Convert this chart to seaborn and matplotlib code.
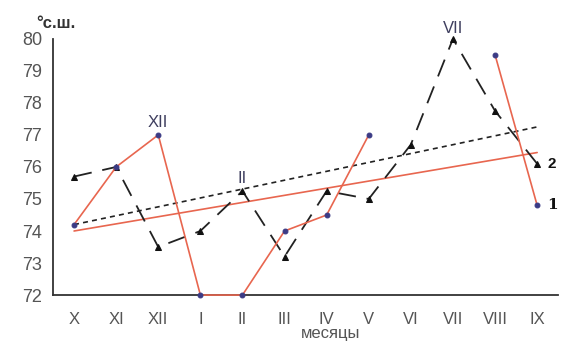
import numpy as np
import pandas as pd
import seaborn as sns
import matplotlib.pyplot as plt

# месяцы (с октября по сентябрь)
months = ['X', 'XI', 'XII', 'I', 'II', 'III', 'IV', 'V', 'VI', 'VII', 'VIII', 'IX']

# кривая 1 (красная) - пропуск в VI и VII
curve1_a_months = ['X', 'XI', 'XII', 'I', 'II', 'III', 'IV', 'V']
curve1_a = [74.2, 76.0, 77.0, 72.0, 72.0, 74.0, 74.5, 77.0]
curve1_b_months = ['VIII', 'IX']
curve1_b = [79.5, 74.8]

# кривая 2 (чёрная, пунктир с треугольниками)
curve2 = [75.7, 76.0, 73.5, 74.0, 75.25, 73.2, 75.25, 75.0, 76.7, 80.0, 77.75, 76.1]

# линии тренда (значения на концах: X и IX)
trend_months = ['X', 'IX']
trend1 = [74.0, 76.45]
trend2 = [74.2, 77.25]

pos = {m: i for i, m in enumerate(months)}

sns.set_style('white')
plt.rcParams['font.family'] = ['Liberation Sans', 'DejaVu Sans']

fig = plt.figure(figsize=(5.67, 3.5), dpi=100)
ax = fig.add_axes([0.0935, 0.157, 0.891, 0.732])

red = '#e8664f'
dot = '#3b3b85'
grey = '#555555'

# тренды
sns.lineplot(x=[pos[m] for m in trend_months], y=trend1, color=red, lw=1.2, ax=ax)
sns.lineplot(x=[pos[m] for m in trend_months], y=trend2, color='#222222', lw=1.2,
             linestyle=(0, (3, 2.5)), ax=ax)

# кривая 2
sns.lineplot(x=range(len(months)), y=curve2, color='#222222', lw=1.3,
             linestyle=(0, (10, 6)), marker='^', markersize=5,
             markeredgecolor='#111111', markerfacecolor='#111111', ax=ax,
             clip_on=False)

# кривая 1
sns.lineplot(x=[pos[m] for m in curve1_a_months], y=curve1_a, color=red, lw=1.2,
             marker='o', markersize=3.5, markerfacecolor=dot, markeredgecolor=dot, ax=ax,
             clip_on=False, zorder=4)
sns.lineplot(x=[pos[m] for m in curve1_b_months], y=curve1_b, color=red, lw=1.2,
             marker='o', markersize=3.5, markerfacecolor=dot, markeredgecolor=dot, ax=ax,
             clip_on=False, zorder=4)

ax.set_xlim(-0.5, len(months) - 0.5)
ax.set_ylim(72, 80)
ax.set_yticks(range(72, 81))
ax.set_xticks(np.arange(-0.5, len(months), 1.0))
ax.set_xticklabels([])
ax.set_xticks(range(len(months)), minor=True)
ax.set_xticklabels(months, minor=True)
ax.tick_params(axis='x', which='minor', length=0, pad=12, labelsize=12, labelcolor=grey)
ax.tick_params(axis='x', which='major', length=5, width=1.2, color='#333333', direction='out')
ax.tick_params(axis='y', length=5, width=1.2, color='#333333', direction='out',
               labelsize=13, labelcolor=grey, pad=3)
for s in ['top', 'right']:
    ax.spines[s].set_visible(False)
for s in ['left', 'bottom']:
    ax.spines[s].set_color('#333333')
    ax.spines[s].set_linewidth(1.3)

ax.set_xlabel('месяцы', fontsize=12, color=grey)
ax.xaxis.set_label_coords(0.55, -0.12)

# подписи
ax.text(pos['XII'], 77.15, 'XII', ha='center', va='bottom', fontsize=12, color='#3f3f5f')
ax.text(pos['II'], 75.4, 'II', ha='center', va='bottom', fontsize=12, color='#3f3f5f')
ax.text(pos['VII'], 80.1, 'VII', ha='center', va='bottom', fontsize=12, color='#3f3f5f',
        clip_on=False)
ax.text(11.25, 76.1, '2', ha='left', va='center', fontsize=11, fontweight='bold', color='#111111')
ax.text(11.25, 74.8, '1', ha='left', va='center', fontsize=11, fontweight='bold', color='#111111',
        family='DejaVu Serif')
fig.text(0.064, 0.912, '°с.ш.', fontsize=12, fontweight='bold', color='#333333',
         ha='left', va='bottom')

fig.savefig('out.png', dpi=100)
